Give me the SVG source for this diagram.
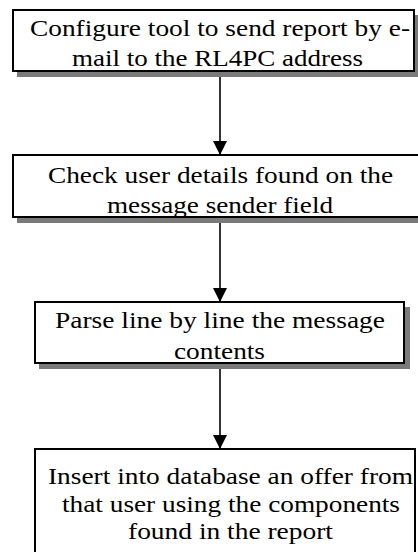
<svg xmlns="http://www.w3.org/2000/svg" width="418" height="552" viewBox="0 0 418 552">
  <style>
    .box { fill: #ffffff; stroke: #000000; stroke-width: 2; }
    .shadow { fill: #7a7a7a; }
    .edge { stroke: #000000; stroke-width: 1.6; fill: none; }
  </style>
  <defs>
    <marker id="arrow" viewBox="0 0 14 14" refX="14" refY="7" markerWidth="14" markerHeight="14" markerUnits="userSpaceOnUse" orient="auto">
      <path d="M0,0 L14,7 L0,14 Z" fill="#000000"/>
    </marker>
  </defs>

  <rect width="418" height="552" fill="#ffffff"/>

  <g id="connectors">
    <line class="edge" x1="220" y1="71" x2="220" y2="155" marker-end="url(#arrow)"/>
    <line class="edge" x1="220" y1="217" x2="220" y2="302" marker-end="url(#arrow)"/>
    <line class="edge" x1="220" y1="363" x2="220" y2="449" marker-end="url(#arrow)"/>
  </g>

  <g font-family="Liberation Serif, DejaVu Serif, serif" font-size="23" fill="#000000" lengthAdjust="spacingAndGlyphs">
    <g id="node-configure">
      <rect class="shadow" x="17" y="15" width="405" height="62"/>
      <rect class="box" x="13" y="10" width="401" height="61"/>
      <text x="30" y="36" textLength="380" lengthAdjust="spacingAndGlyphs">Configure tool to send report by e-</text>
      <text x="72" y="66" textLength="291" lengthAdjust="spacingAndGlyphs">mail to the RL4PC address</text>
    </g>

    <g id="node-check">
      <rect class="shadow" x="17" y="160" width="410" height="63"/>
      <rect class="box" x="13" y="155" width="410" height="62"/>
      <text x="48" y="183" textLength="345" lengthAdjust="spacingAndGlyphs">Check user details found on the</text>
      <text x="107" y="213" textLength="226" lengthAdjust="spacingAndGlyphs">message sender field</text>
    </g>

    <g id="node-parse">
      <rect class="shadow" x="39" y="307" width="371" height="62"/>
      <rect class="box" x="35" y="302" width="369" height="61"/>
      <text x="55" y="328" textLength="330" lengthAdjust="spacingAndGlyphs">Parse line by line the message</text>
      <text x="174" y="359" textLength="91" lengthAdjust="spacingAndGlyphs">contents</text>
    </g>

    <g id="node-insert">
      <rect class="box" x="35" y="449" width="380" height="112"/>
      <text x="48" y="484" textLength="365" lengthAdjust="spacingAndGlyphs">Insert into database an offer from</text>
      <text x="62" y="512" textLength="338" lengthAdjust="spacingAndGlyphs">that user using the components</text>
      <text x="128" y="539" textLength="205" lengthAdjust="spacingAndGlyphs">found in the report</text>
    </g>
  </g>
</svg>
